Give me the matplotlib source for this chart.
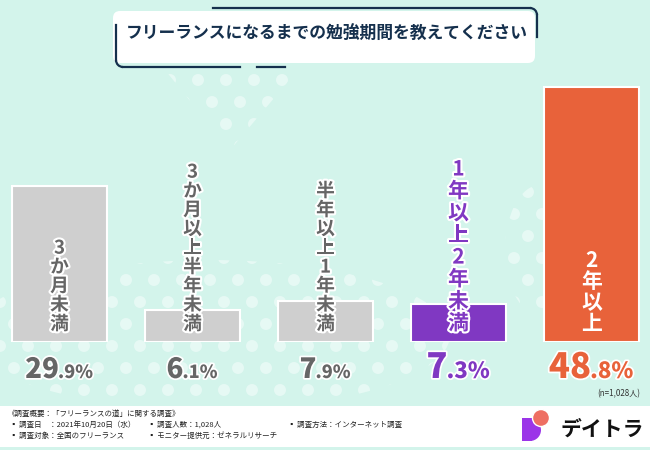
import matplotlib
matplotlib.use("Agg")
import matplotlib.pyplot as plt
import matplotlib.patheffects as pe
from matplotlib.patches import FancyBboxPatch, Rectangle, Circle, Wedge, Arc, Polygon, Ellipse
from matplotlib.lines import Line2D

plt.rcParams['font.family'] = ['Noto Sans CJK JP', 'DejaVu Sans']

TITLE = "フリーランスになるまでの勉強期間を教えてください"
categories = ["3か月未満", "3か月以上半年未満", "半年以上1年未満", "1年以上2年未満", "2年以上"]
values = [29.9, 6.1, 7.9, 7.3, 48.8]
big_parts = ["29", "6", "7", "7", "48"]
small_parts = [".9%", ".1%", ".9%", ".3%", ".8%"]
highlight = [False, False, False, True, True]

BG = "#d3f4eb"
DOT = "#e6f9f4"
GRAY = "#cfcfcf"
GRAY_TXT = "#666666"
PURPLE = "#8038c2"
ORANGE = "#e8623a"
NAVY = "#15304d"
bar_colors = [GRAY, GRAY, GRAY, PURPLE, ORANGE]
label_colors = [GRAY_TXT, GRAY_TXT, GRAY_TXT, PURPLE, "white"]
pct_colors = [GRAY_TXT, GRAY_TXT, GRAY_TXT, PURPLE, ORANGE]


def dot_field(ax, clip, x0, x1, y0, y1):
    # staggered decorative dots, clipped to a shape
    ax.add_patch(clip)
    clip.set_visible(False)
    row = 0
    y = y0
    while y <= y1:
        x = x0 + (14 if row % 2 else 0)
        while x <= x1:
            c = Circle((x, y), 6, fc=DOT, ec="none", zorder=0.5)
            ax.add_patch(c)
            c.set_clip_path(clip)
            x += 28
        y += 22
        row += 1


def main():
    fig = plt.figure(figsize=(6.5, 4.5), dpi=100)
    fig.patch.set_facecolor(BG)

    bg = fig.add_axes([0, 0, 1, 1])
    bg.set_xlim(0, 650)
    bg.set_ylim(450, 0)
    bg.axis("off")
    bg.set_zorder(0)

    # background dots
    dot_field(bg, Polygon([(165, 70), (298, 70), (230, 150)], closed=True), 170, 300, 80, 150)
    dot_field(bg, Ellipse((210, 335), 480, 150), 0, 460, 258, 410)
    dot_field(bg, Ellipse((540, 250), 70, 130), 500, 580, 192, 320)

    # title box
    bg.add_patch(FancyBboxPatch((113, 11), 422, 52, boxstyle="round,pad=0,rounding_size=7",
                                fc="white", ec="none"))
    bg.add_line(Line2D([213, 530], [8, 8], color=NAVY, lw=1.6))
    bg.add_patch(Arc((530, 15), 14, 14, theta1=270, theta2=360, color=NAVY, lw=1.6))
    bg.add_line(Line2D([537, 537], [15, 37], color=NAVY, lw=1.6))
    bg.add_line(Line2D([116, 116], [25, 60], color=NAVY, lw=1.6))
    bg.add_patch(Arc((123, 60), 14, 14, theta1=90, theta2=180, color=NAVY, lw=1.6))
    bg.add_line(Line2D([123, 240], [67, 67], color=NAVY, lw=1.6))
    bg.add_line(Line2D([257, 285], [67, 67], color=NAVY, lw=1.6))
    bg.text(327, 34, TITLE, ha="center", va="center", fontsize=12.1, fontweight="bold", color=NAVY)

    # footer
    bg.add_patch(Rectangle((0, 406), 650, 41, fc="white", ec="none"))
    fs = 5.4
    fc = "#222222"
    bg.text(7, 414, "《調査概要：「フリーランスの道」に関する調査》", fontsize=fs, va="center", color=fc)
    bg.text(10, 425, "▪ 調査日　：2021年10月20日（水）", fontsize=fs, va="center", color=fc)
    bg.text(148, 425, "▪ 調査人数：1,028人", fontsize=fs, va="center", color=fc)
    bg.text(288, 425, "▪ 調査方法：インターネット調査", fontsize=fs, va="center", color=fc)
    bg.text(10, 436, "▪ 調査対象：全国のフリーランス", fontsize=fs, va="center", color=fc)
    bg.text(148, 436, "▪ モニター提供元：ゼネラルリサーチ", fontsize=fs, va="center", color=fc)
    bg.text(640, 394, "(n=1,028人)", fontsize=5.8, ha="right", va="center", color="#333333")

    # logo
    bg.add_patch(Rectangle((522, 418), 10, 23, fc="#9b35e8", ec="none"))
    bg.add_patch(Wedge((530, 430), 11, 270, 90, fc="#9b35e8", ec="none"))
    bg.add_patch(Circle((541, 418), 8.5, fc="#ee6f63", ec="white", lw=1))
    bg.text(560, 429, "デイトラ", fontsize=15, fontweight="bold", va="center", color="#111111")

    # bars
    ax = fig.add_axes([0, 108 / 450, 1, 342 / 450])
    ax.set_zorder(1)
    ax.patch.set_visible(False)
    ax.set_xlim(-59.5 / 133, (650 - 59.5) / 133)
    ax.set_ylim(0, 342 / 5.22)
    ax.axis("off")
    xs = list(range(len(values)))
    ax.bar(xs, values, width=95 / 133, color=bar_colors, edgecolor="white", linewidth=1.5)

    for i, cat in enumerate(categories):
        size = 15 if highlight[i] else 13.5
        effects = [] if i == 4 else [pe.withStroke(linewidth=3, foreground="white")]
        ax.text(i, 1.6, "\n".join(cat), ha="center", va="bottom", fontsize=size,
                fontweight="bold", color=label_colors[i],
                linespacing=1.06 if i == 3 else 1.0, path_effects=effects)

    # percentage labels: big integer part + smaller decimals, centred under each bar
    fig.canvas.draw()
    r = fig.canvas.get_renderer()
    for i in xs:
        cx = ax.transData.transform((i, 0))[0]
        bsz, ssz = (25, 16) if highlight[i] else (20, 13)
        t1 = bg.text(0, 378, big_parts[i], fontsize=bsz, fontweight="heavy", color=pct_colors[i],
                     ha="left", va="baseline",
                     path_effects=[pe.withStroke(linewidth=2.5, foreground="white")])
        t2 = bg.text(0, 378, small_parts[i], fontsize=ssz, fontweight="heavy", color=pct_colors[i],
                     ha="left", va="baseline",
                     path_effects=[pe.withStroke(linewidth=2.5, foreground="white")])
        w1 = t1.get_window_extent(r).width
        w2 = t2.get_window_extent(r).width
        left = cx - (w1 + w2) / 2
        t1.set_x(left)
        t2.set_x(left + w1 - 1)

    fig.savefig("out.png", dpi=100, facecolor=fig.get_facecolor())
    plt.close(fig)


if __name__ == '__main__':
    main()
